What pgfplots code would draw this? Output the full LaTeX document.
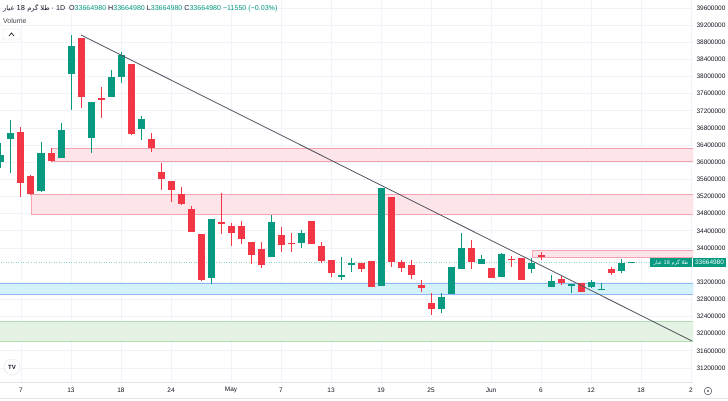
\documentclass[border=0pt]{standalone}
\usepackage{pgfplots}
\usepackage{pgfplotstable}
\pgfplotsset{compat=1.18}
\usepackage{fontspec}
\setmainfont{Liberation Sans}
\newfontfamily\arabicfont[Script=Arabic]{DejaVu Sans}
\TeXXeTstate=1
\definecolor{Up}{HTML}{089981}
\definecolor{Down}{HTML}{F23645}
\definecolor{TVText}{HTML}{131722}
\definecolor{TVGrid}{HTML}{F0F3FA}
\definecolor{TVAxis}{HTML}{E0E3EB}
\definecolor{PinkFill}{HTML}{FDE4E9}
\definecolor{PinkEdge}{HTML}{F5A3B1}
\definecolor{BlueFill}{HTML}{D3F1F8}
\definecolor{BlueEdge}{HTML}{8DB9F2}
\definecolor{GreenFill}{HTML}{E4F2E4}
\definecolor{GreenEdge}{HTML}{B2DCB2}
\definecolor{TrendLine}{HTML}{50535E}

% candles: i = bar index, b = body bottom, d = body height, l = low, r = high-low
\pgfplotstableread{
i b d l r
0 36007000 163000 35867000 583000
1 36543000 140000 35750000 1237000
4 35330000 887000 35307000 1166000
6 36100000 653000 36100000 817000
7 38060000 653000 37220000 1750000
9 36567000 840000 36217000 1190000
11 37523000 467000 37523000 630000
12 37990000 513000 37850000 723000
14 36777000 233000 36520000 560000
21 33300000 1377000 33160000 1517000
27 33790000 817000 33790000 980000
30 34117000 233000 34000000 420000
34 33323000 47000 33253000 537000
35 33603000 47000 33440000 327000
38 33113000 2287000 33113000 2287000
44 32577000 280000 32483000 467000
45 32927000 630000 32927000 630000
46 33510000 490000 33510000 840000
48 33627000 116000 33627000 210000
50 33323000 537000 33323000 560000
53 33510000 140000 33417000 350000
55 33090000 140000 33090000 280000
57 33113000 47000 32950000 210000
59 33090000 117000 33067000 186000
60 33020000 23000 33020000 163000
62 33463000 187000 33417000 326000
63 33654000 23000 33654000 23000
}\upcandles

\pgfplotstableread{
i b d l r
2 35517000 1190000 35190000 1633000
3 35260000 420000 35237000 466000
5 36030000 187000 36007000 326000
8 37523000 1377000 37267000 1633000
10 37453000 47000 37033000 724000
13 36660000 1633000 36637000 1656000
15 36333000 210000 36240000 443000
16 35610000 163000 35353000 630000
17 35353000 210000 35073000 490000
18 35027000 233000 35003000 420000
19 34373000 537000 34373000 607000
20 33253000 1074000 33230000 1097000
22 34560000 47000 34327000 956000
23 34350000 163000 34047000 536000
24 34210000 303000 34093000 537000
25 33837000 303000 33627000 513000
26 33603000 374000 33533000 607000
28 34070000 233000 33907000 583000
29 34093000 24000 33907000 443000
31 34093000 537000 34093000 537000
32 33697000 350000 33650000 490000
33 33417000 303000 33323000 397000
36 33510000 140000 33440000 210000
37 33090000 607000 33090000 607000
39 33673000 1517000 33557000 1633000
40 33533000 140000 33440000 280000
41 33370000 233000 33277000 443000
42 33067000 70000 32973000 280000
43 32577000 140000 32437000 513000
47 33673000 327000 33510000 677000
49 33300000 233000 33300000 233000
51 33720000 23000 33557000 256000
52 33253000 514000 33253000 514000
54 33790000 47000 33720000 187000
56 33183000 94000 33137000 210000
58 32973000 210000 32973000 210000
61 33417000 93000 33370000 187000
}\downcandles

\begin{document}
\begin{tikzpicture}[x=1pt,y=1pt]
\fill[white] (0,0) rectangle (728,400);
\path[use as bounding box] (0,0) rectangle (728,400);
\begin{axis}[at={(0pt,400pt)},anchor=north west,scale only axis,
  width=693pt,height=382pt,
  xmin=-0.1,xmax=69.2,ymin=30873333,ymax=39786667,
  axis x line*=bottom,axis y line*=right,
  x axis line style={draw=TVAxis,-},y axis line style={draw=none,-},
  major tick length=0pt,
  xtick={2,7,12,17,23,28,33,38,43,49,54,59,64,69},
  xticklabels={7,13,18,24,May,7,13,19,25,Jun,6,12,18,2},
  ytick={31200000,31600000,32000000,32400000,32800000,33200000,34000000,34400000,34800000,35200000,35600000,36000000,36400000,36800000,37200000,37600000,38000000,38400000,38800000,39200000,39600000},
  scaled y ticks=false,
  yticklabel style={anchor=west,font=\fontsize{6.5}{7}\selectfont,text=TVText,
    /pgf/number format/.cd,fixed,precision=0,1000 sep={},assume math mode=true},
  xticklabel style={anchor=center,yshift=-8pt,font=\fontsize{6.5}{7}\selectfont,text=TVText},
  grid=major,major grid style={TVGrid,line width=0.8pt}]
% zones
\addplot[fill=GreenFill,draw=GreenEdge,line width=0.8pt] coordinates {(-1,32297000) (69.2,32297000) (69.2,31830000) (-1,31830000)} -- cycle;
\addplot[fill=BlueFill,draw=BlueEdge,line width=0.8pt] coordinates {(-1,33183000) (69.2,33183000) (69.2,32927000) (-1,32927000)} -- cycle;
\addplot[fill=PinkFill,draw=PinkEdge,line width=0.8pt] coordinates {(5,36320000) (69.2,36320000) (69.2,36025000) (5,36025000)} -- cycle;
\addplot[fill=PinkFill,draw=PinkEdge,line width=0.8pt] coordinates {(3,35240000) (69.2,35240000) (69.2,34790000) (3,34790000)} -- cycle;
\addplot[fill=PinkFill,draw=PinkEdge,line width=0.8pt] coordinates {(53.1,33950000) (69.2,33950000) (69.2,33780000) (53.1,33780000)} -- cycle;
% last price line
\addplot[Up!45,line width=0.6pt,dash pattern=on 1pt off 1.5pt] coordinates {(-1,33664980) (69.2,33664980)};
% wicks
\addplot[draw=none,mark=none,forget plot,error bars/.cd,y dir=plus,y explicit,error mark=none,
  error bar style={line width=1pt,draw=Up}] table[x=i,y=l,y error plus=r] {\upcandles};
\addplot[draw=none,mark=none,forget plot,error bars/.cd,y dir=plus,y explicit,error mark=none,
  error bar style={line width=1pt,draw=Down}] table[x=i,y=l,y error plus=r] {\downcandles};
% bodies
\addplot[draw=none,mark=none,forget plot,error bars/.cd,y dir=plus,y explicit,error mark=none,
  error bar style={line width=7pt,draw=Up}] table[x=i,y=b,y error plus=d] {\upcandles};
\addplot[draw=none,mark=none,forget plot,error bars/.cd,y dir=plus,y explicit,error mark=none,
  error bar style={line width=7pt,draw=Down}] table[x=i,y=b,y error plus=d] {\downcandles};
% trend line
\addplot[TrendLine,line width=0.8pt] coordinates {(8,38970000) (69.1,31830000)};
\end{axis}
\draw[TVAxis,line width=0.6pt] (0,2) -- (728,2);
% header
\node[anchor=west,inner sep=0,font=\fontsize{7.1}{9}\selectfont,text=TVText] at (3,392)
  {{\arabicfont\fontsize{6.7}{9}\selectfont\beginR طلا گرم \beginL18\endL{} عیار\endR}\ \textperiodcentered\ 1D\ \
   O\textcolor{Up}{33664980}\ H\textcolor{Up}{33664980}\ L\textcolor{Up}{33664980}\ C\textcolor{Up}{33664980}\ \textcolor{Up}{\textminus11550 (\textminus0.03\%)}};
\node[anchor=west,inner sep=0,font=\fontsize{7}{8}\selectfont,text=TVText!80] at (3,379) {Volume};
\draw[TVAxis,rounded corners=1.5pt,fill=white] (3,360) rectangle (20,371);
\draw[TVText,line width=0.7pt] (9,364) -- (11.5,367) -- (14,364);
% price label
\fill[Up] (650,133) rectangle (692,142);
\fill[Up] (693,133) rectangle (726,142);
\node[text=white,inner sep=0,font=\arabicfont\fontsize{5}{6}\selectfont] at (671,137.5) {\beginR طلا گرم \beginL18\endL{} عیار\endR};
\node[text=white,inner sep=0,font=\fontsize{6.5}{7}\selectfont] at (709.5,137.5) {33664980};
% logo and settings icon
\draw[TVAxis,fill=white] (12,33) circle (8);
\node[inner sep=0,font=\bfseries\fontsize{6}{7}\selectfont,text=TVText] at (12,33) {TV};
\draw[TVText!70,line width=0.6pt] (708,9) circle (3.8);
\fill[TVText!70] (708,9) circle (1.2);
\end{tikzpicture}
\end{document}
